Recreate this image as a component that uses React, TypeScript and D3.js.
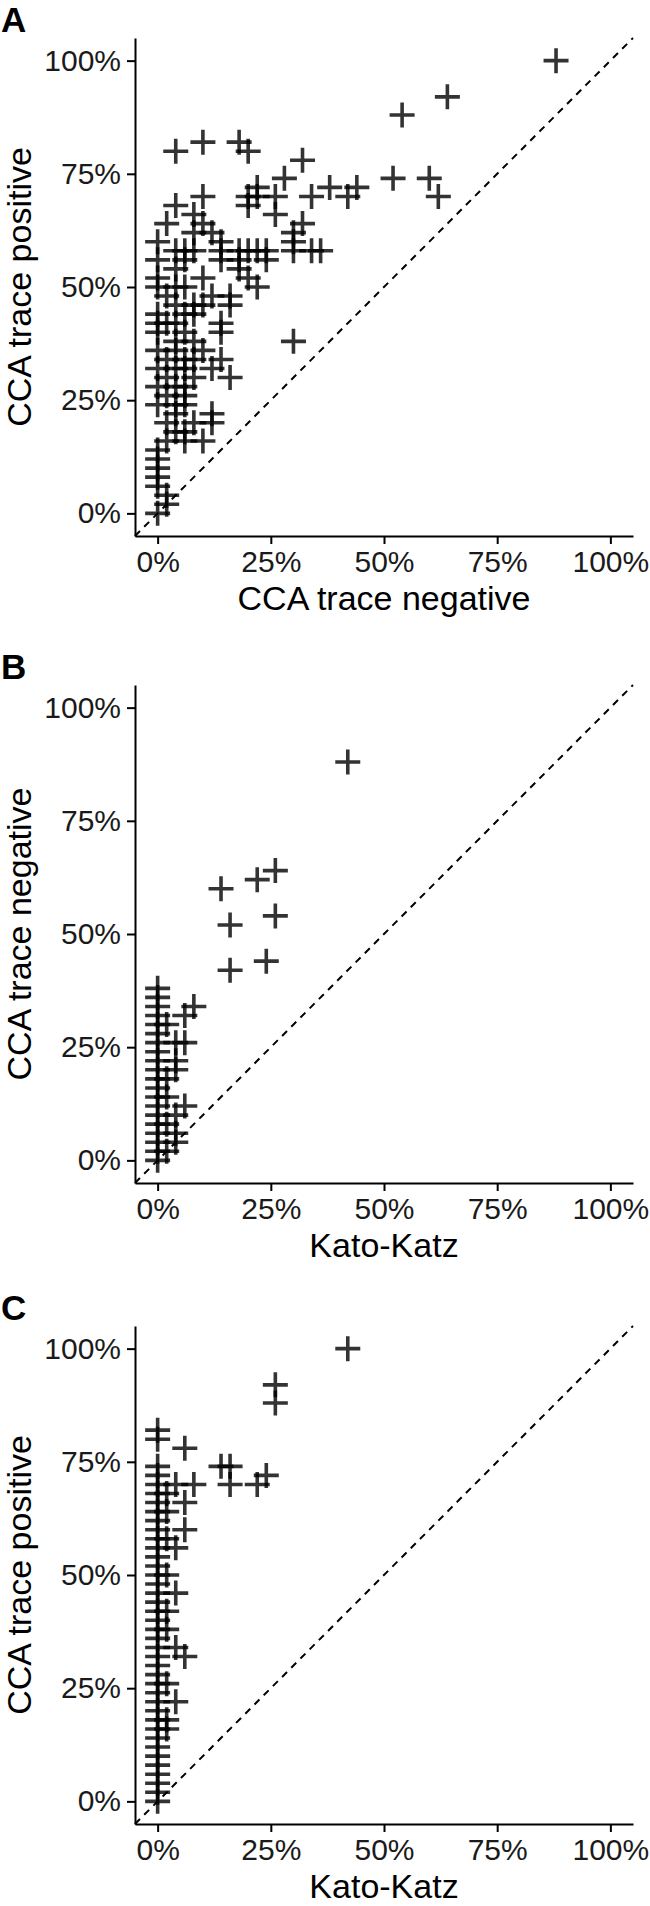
import React, { useRef, useEffect } from 'react';
import { select, scaleLinear, axisBottom, axisLeft, format, line } from 'd3';

// panel A: CCA trace negative (x) vs CCA trace positive (y), in %
const negA = [88, 64, 54, 10, 18, 4, 20, 32, 28, 52, 60, 38, 44, 22, 10, 20, 22, 26, 34, 42, 62, 4, 20, 8, 26, 2, 10, 32, 8, 12, 30, 0, 14, 30, 4, 6, 8, 14, 18, 20, 22, 24, 30, 34, 36, 0, 6, 14, 18, 24, 4, 18, 0, 10, 20, 0, 4, 6, 22, 2, 12, 16, 4, 8, 10, 16, 0, 6, 8, 0, 2, 4, 14, 0, 6, 14, 4, 8, 30, 0, 4, 10, 2, 6, 8, 14, 0, 4, 6, 12, 2, 8, 16, 0, 4, 6, 2, 6, 0, 4, 6, 4, 12, 2, 8, 12, 4, 6, 6, 10, 2, 0, 0, 0, 0, 0, 2, 2, 0];
const posA = [100, 92, 88, 82, 82, 80, 80, 78, 74, 74, 74, 72, 72, 72, 70, 70, 70, 70, 70, 70, 70, 68, 68, 66, 66, 64, 64, 64, 62, 62, 62, 60, 60, 60, 58, 58, 58, 58, 58, 58, 58, 58, 58, 58, 58, 56, 56, 56, 56, 56, 54, 54, 52, 52, 52, 50, 50, 50, 50, 48, 48, 48, 46, 46, 46, 46, 44, 44, 44, 42, 42, 42, 42, 40, 40, 40, 38, 38, 38, 36, 36, 36, 34, 34, 34, 34, 32, 32, 32, 32, 30, 30, 30, 28, 28, 28, 26, 26, 24, 24, 24, 22, 22, 20, 20, 20, 18, 18, 16, 16, 16, 14, 12, 10, 8, 6, 4, 2, 0];

// panel B: Kato-Katz (x) vs CCA trace negative (y)
const kkB = [42, 14, 22, 26, 16, 26, 16, 24, 0, 0, 0, 0, 0, 0, 0, 0, 0, 0, 0, 0, 0, 0, 0, 0, 0, 0, 0, 0, 8, 6, 2, 4, 6, 4, 4, 6, 4, 2, 4, 4, 2, 2, 2];
const negB = [88, 60, 62, 64, 52, 54, 42, 44, 0, 2, 4, 6, 8, 10, 12, 14, 16, 18, 20, 22, 24, 26, 28, 30, 32, 34, 36, 38, 34, 32, 30, 26, 26, 22, 20, 12, 10, 8, 6, 4, 2, 18, 14];

// panel C: Kato-Katz (x) vs CCA trace positive (y)
const kkC = [42, 26, 26, 14, 16, 16, 22, 24, 6, 4, 8, 6, 6, 4, 2, 2, 4, 2, 2, 4, 6, 4, 2, 2, 2, 2, 2, 0, 0, 0, 0, 0, 0, 0, 0, 0, 0, 0, 0, 0, 0, 0, 0, 0, 0, 0, 0, 0, 0, 0, 0, 0, 0, 0, 0, 0, 0, 0, 0, 0, 0, 0, 0, 0, 0, 0, 0];
const posC = [100, 92, 88, 74, 74, 70, 70, 72, 78, 70, 70, 66, 60, 56, 58, 64, 46, 50, 38, 34, 32, 22, 18, 16, 68, 42, 26, 0, 2, 4, 6, 8, 10, 12, 14, 16, 18, 20, 22, 24, 26, 28, 30, 32, 34, 36, 38, 40, 42, 44, 46, 48, 50, 52, 54, 56, 58, 60, 62, 64, 66, 68, 70, 72, 74, 80, 82];

const tickVals = [0, 0.25, 0.5, 0.75, 1];
const FONT = 'Liberation Sans, Arial, Helvetica, sans-serif';

const Panel = ({ label, top, xs, ys, xTitle, yTitle }) => {
  const gRef = useRef();
  const left = 135;
  const size = 498;

  useEffect(() => {
    const g = select(gRef.current);
    const xScale = scaleLinear().domain([-0.05, 1.05]).range([left, left + size]);
    const yScale = scaleLinear().domain([-0.05, 1.05]).range([top + size, top]);
    const pct = format('.0%');

    const xAxis = axisBottom(xScale).tickValues(tickVals).tickFormat(pct).tickSize(8).tickSizeOuter(0).tickPadding(7);
    g.select('.xAxis').attr('transform', `translate(0,${top + size})`).call(xAxis);
    const yAxis = axisLeft(yScale).tickValues(tickVals).tickFormat(pct).tickSize(8).tickSizeOuter(0).tickPadding(6);
    g.select('.yAxis').attr('transform', `translate(${left},0)`).call(yAxis);

    g.selectAll('.domain, .tick line').attr('stroke', '#000').attr('stroke-width', 2);
    g.selectAll('.tick text').attr('font-size', 30).attr('font-family', FONT).attr('fill', '#1a1a1a');

    const diag = line().x((d) => xScale(d)).y((d) => yScale(d));
    g.select('.diag')
      .attr('d', diag([-0.05, 1.05]))
      .attr('stroke', '#000')
      .attr('stroke-width', 2)
      .attr('stroke-dasharray', '7,6')
      .attr('fill', 'none');

    const pts = xs.map((v, i) => ({ x: v / 100, y: ys[i] / 100 }));
    g.select('.pts')
      .selectAll('path')
      .data(pts)
      .join('path')
      .attr('d', 'M-12.5,0H12.5M0,-12.5V12.5')
      .attr('transform', (d) => `translate(${xScale(d.x)},${yScale(d.y)})`)
      .attr('stroke', '#000')
      .attr('stroke-opacity', 0.8)
      .attr('stroke-width', 3.6)
      .attr('fill', 'none');
  }, [top, xs, ys]);

  return (
    <g ref={gRef}>
      <text x={1} y={top - 6} fontSize={35} fontWeight="bold" fontFamily={FONT}>{label}</text>
      <path className="diag" />
      <g className="pts" />
      <g className="xAxis" />
      <g className="yAxis" />
      <text x={left + size / 2} y={top + size + 74} fontSize={34} fontFamily={FONT} textAnchor="middle">{xTitle}</text>
      <text transform={`translate(31,${top + size / 2}) rotate(-90)`} fontSize={34} fontFamily={FONT} textAnchor="middle">{yTitle}</text>
    </g>
  );
};

export default function App() {
  return (
    <svg width={650} height={1906} style={{ position: 'absolute', left: 0, top: 0, background: '#fff' }}>
      <Panel label="A" top={38} xs={negA} ys={posA} xTitle="CCA trace negative" yTitle="CCA trace positive" />
      <Panel label="B" top={685} xs={kkB} ys={negB} xTitle="Kato-Katz" yTitle="CCA trace negative" />
      <Panel label="C" top={1326} xs={kkC} ys={posC} xTitle="Kato-Katz" yTitle="CCA trace positive" />
    </svg>
  );
}
